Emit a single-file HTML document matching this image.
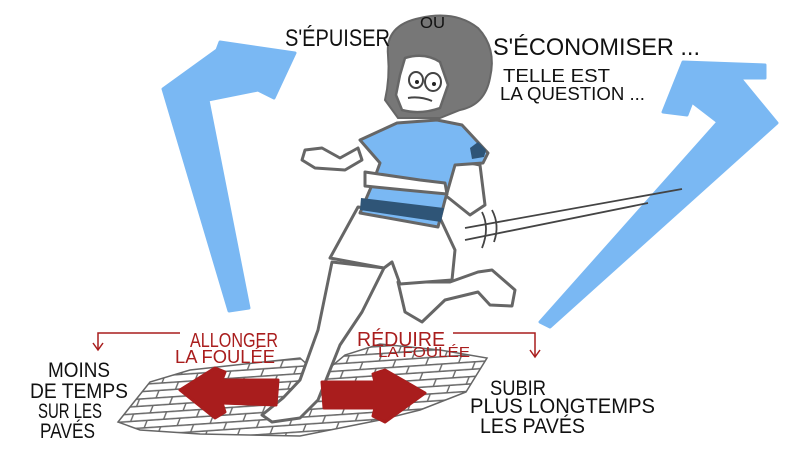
<!DOCTYPE html>
<html><head><meta charset="utf-8"><style>
html,body{margin:0;padding:0;background:#fff}
svg{display:block}
text{font-family:"Liberation Sans Narrow","Liberation Sans",sans-serif}
</style></head><body>
<svg width="800" height="450" viewBox="0 0 800 450" xmlns="http://www.w3.org/2000/svg">
<defs>
<pattern id="brick" width="32" height="15" patternUnits="userSpaceOnUse" patternTransform="skewX(-25) rotate(-4)">
<rect width="32" height="15" fill="#fff"/>
<path d="M0,0.8 H32 M0,8.3 H32 M9,0 V8 M25,8 V15" stroke="#6a6a6a" stroke-width="1.5" fill="none"/>
</pattern>
<clipPath id="pv"><path d="M118,422 L150,382 L190,370 L300,358 L320,376 L345,355 L380,344 L440,350 L487,358 L466,392 L420,410 L380,420 L300,436 L200,434 L140,430 Z"/></clipPath>
</defs>
<rect width="800" height="450" fill="#fff"/>
<!-- left blue arrow -->
<path d="M229,311 L249,308 L208,100 L258,90 L274,98 L295,53 L220,42 L217,50 L163,89 Z" fill="#7ab8f3" stroke="#7ab8f3" stroke-width="3" stroke-linejoin="round"/>
<!-- right blue arrow -->
<path d="M540,322 L550,327 L777,123 L740,78 L765,78 L765,65 L683,62 L663,112 L687,115 L692,102 L718,122 Z" fill="#7ab8f3" stroke="#7ab8f3" stroke-width="3" stroke-linejoin="round"/>
<!-- cobblestones -->
<g clip-path="url(#pv)"><rect x="100" y="330" width="400" height="120" fill="url(#brick)"/></g>
<path d="M118,422 L150,382 L190,370 L300,358 L320,376 L345,355 L380,344 L440,350 L487,358 L466,392 L420,410 L380,420 L300,436 L200,434 L140,430 Z" fill="none" stroke="#666" stroke-width="1.5"/>
<!-- runner legs -->
<g stroke="#666" stroke-width="3" fill="#fff" stroke-linejoin="round" stroke-linecap="round">
<path d="M332,262 L318,330 L300,380 L283,398 L262,415 L272,422 L300,418 L318,400 L340,345 L362,312 L384,268 Z"/>
<path d="M398,282 L405,312 L422,322 L445,300 L478,292 L490,305 L512,306 L515,290 L492,270 L478,272 L450,282 Z"/>
<!-- shorts -->
<path d="M358,207 L330,258 L384,268 L392,262 L400,284 L452,280 L455,250 L440,218 Z"/>
<!-- back arm -->
<path d="M455,160 L480,165 L485,205 L470,215 L445,195 Z"/>
<!-- front arm -->
<path d="M362,160 L345,170 L315,168 L302,160 L305,150 L322,148 L340,158 L358,148 Z"/>
</g>
<!-- shirt -->
<path d="M360,140 L397,123 L437,120 L462,125 L488,153 L483,163 L455,165 L445,200 L438,227 L360,213 L372,185 L380,163 Z" fill="#7ab8f3" stroke="#666" stroke-width="3" stroke-linejoin="round"/>
<path d="M361,198 L444,208 L441,222 L360,210 Z" fill="#2f5577"/>
<path d="M478,142 L486,150 L484,157 L472,159 L470,148 Z" fill="#2f5577"/>
<!-- forearm across shirt -->
<path d="M365,172 L420,180 L445,183 L447,194 L405,190 L365,186 Z" fill="#fff" stroke="#666" stroke-width="3" stroke-linejoin="round"/>
<!-- head -->
<path d="M388,55 Q385,25 420,18 Q455,10 478,28 Q497,48 490,78 Q485,105 460,110 L440,118 L398,118 L385,100 Q390,78 388,55 Z" fill="#777" stroke="#666" stroke-width="2"/>
<path d="M405,58 Q425,52 440,62 L448,85 L440,108 Q420,115 402,110 L396,95 L400,75 Z" fill="#fff" stroke="#666" stroke-width="2.5"/>
<ellipse cx="416" cy="80" rx="7" ry="8" fill="#fff" stroke="#444" stroke-width="2"/>
<ellipse cx="433" cy="82" rx="8" ry="9" fill="#fff" stroke="#444" stroke-width="2"/>
<circle cx="417" cy="82" r="2" fill="#222"/><circle cx="434" cy="84" r="2" fill="#222"/>
<path d="M408,98 Q420,96 432,101" stroke="#444" stroke-width="2" fill="none"/>
<!-- speed lines -->
<g stroke="#444" stroke-width="1.8" fill="none">
<path d="M465,228 L682,189 M465,240 L648,203"/>
<path d="M482,212 Q490,228 482,248 M492,210 Q500,225 494,242"/>
</g>
<!-- red arrows -->
<path d="M180,390 L215,368 L225,372 L222,380 L278,380 L276,405 L222,403 L225,412 L215,418 Z" fill="#a91d1d" stroke="#a91d1d" stroke-width="3" stroke-linejoin="round"/>
<path d="M425,393 L385,370 L373,374 L375,382 L322,382 L324,408 L375,408 L373,416 L385,422 Z" fill="#a91d1d" stroke="#a91d1d" stroke-width="3" stroke-linejoin="round"/>
<!-- red brackets -->
<path d="M180,333 H98 V349 M453,333 H535 V356" stroke="#a91d1d" stroke-width="1.5" fill="none"/>
<path d="M93,343 L98,350 L103,343 M530,350 L535,357 L540,350" stroke="#a91d1d" stroke-width="1.5" fill="none"/>
<!-- texts -->
<g fill="#111">
<text x="285" y="46" font-size="24" textLength="105" lengthAdjust="spacingAndGlyphs">S'ÉPUISER</text>
<text x="420" y="28" font-size="16" textLength="25" lengthAdjust="spacingAndGlyphs">OU</text>
<text x="493" y="55" font-size="24" textLength="207" lengthAdjust="spacingAndGlyphs">S'ÉCONOMISER ...</text>
<text x="503" y="82" font-size="18" textLength="107" lengthAdjust="spacingAndGlyphs">TELLE EST</text>
<text x="500" y="100" font-size="18" textLength="145" lengthAdjust="spacingAndGlyphs">LA QUESTION ...</text>
<text x="48" y="377" font-size="21" textLength="62" lengthAdjust="spacingAndGlyphs">MOINS</text>
<text x="30" y="398" font-size="21" textLength="98" lengthAdjust="spacingAndGlyphs">DE TEMPS</text>
<text x="38" y="418" font-size="21" textLength="64" lengthAdjust="spacingAndGlyphs">SUR LES</text>
<text x="40" y="438" font-size="21" textLength="55" lengthAdjust="spacingAndGlyphs">PAVÉS</text>
<text x="490" y="395" font-size="21" textLength="56" lengthAdjust="spacingAndGlyphs">SUBIR</text>
<text x="470" y="413" font-size="21" textLength="185" lengthAdjust="spacingAndGlyphs">PLUS LONGTEMPS</text>
<text x="480" y="433" font-size="21" textLength="105" lengthAdjust="spacingAndGlyphs">LES PAVÉS</text>
</g>
<g fill="#a91d1d">
<text x="190" y="347" font-size="20" textLength="88" lengthAdjust="spacingAndGlyphs">ALLONGER</text>
<text x="175" y="363" font-size="18" textLength="100" lengthAdjust="spacingAndGlyphs">LA FOULÉE</text>
<text x="357" y="346" font-size="20" textLength="88" lengthAdjust="spacingAndGlyphs">RÉDUIRE</text>
<text x="378" y="357" font-size="15" textLength="92" lengthAdjust="spacingAndGlyphs">LA FOULÉE</text>
</g>
</svg>
</body></html>
